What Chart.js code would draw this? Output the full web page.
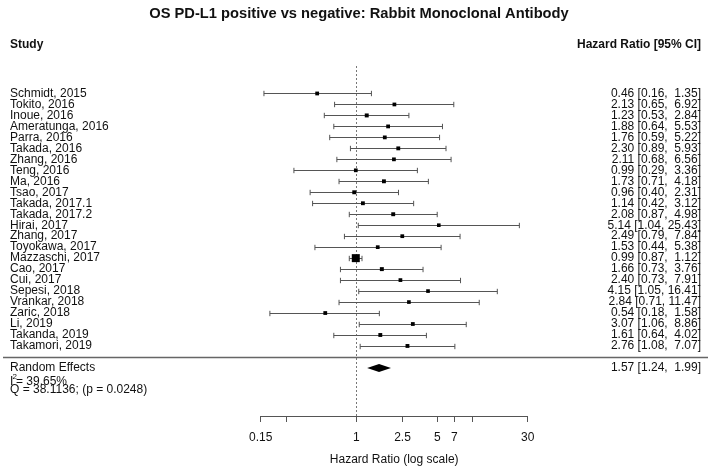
<!DOCTYPE html>
<html>
<head>
<meta charset="utf-8">
<script src="https://cdn.jsdelivr.net/npm/chart.js@4/dist/chart.umd.min.js"></script>
<style>
  html, body { margin: 0; padding: 0; background: #ffffff; }
  canvas { display: block; }
</style>
</head>
<body>
<canvas id="c" width="711" height="469"></canvas>
<script>
// ---------------- data ----------------
const studies = ["Schmidt, 2015","Tokito, 2016","Inoue, 2016","Ameratunga, 2016","Parra, 2016","Takada, 2016","Zhang, 2016","Teng, 2016","Ma, 2016","Tsao, 2017","Takada, 2017.1","Takada, 2017.2","Hirai, 2017","Zhang, 2017","Toyokawa, 2017","Mazzaschi, 2017","Cao, 2017","Cui, 2017","Sepesi, 2018","Vrankar, 2018","Zaric, 2018","Li, 2019","Takanda, 2019","Takamori, 2019"];
const hazardRatio = [0.46,2.13,1.23,1.88,1.76,2.30,2.11,0.99,1.73,0.96,1.14,2.08,5.14,2.49,1.53,0.99,1.66,2.40,4.15,2.84,0.54,3.07,1.61,2.76];
const ciLower = [0.16,0.65,0.53,0.64,0.59,0.89,0.68,0.29,0.71,0.40,0.42,0.87,1.04,0.79,0.44,0.87,0.73,0.73,1.05,0.71,0.18,1.06,0.64,1.08];
const ciUpper = [1.35,6.92,2.84,5.53,5.22,5.93,6.56,3.36,4.18,2.31,3.12,4.98,25.43,7.84,5.38,1.12,3.76,7.91,16.41,11.47,1.58,8.86,4.02,7.07];
const pooled = [1.57, 1.24, 1.99];           // estimate, lower, upper
const heterogeneityI2 = "39.65%";
const heterogeneityQ = "Q = 38.1136; (p = 0.0248)";
const tickValues = [0.15, 0.25, 1, 2.5, 5, 7, 10, 30];
const tickLabels = ["0.15", "", "1", "2.5", "5", "7", "", "30"];

// ---------------- styling / layout ----------------
const FONT = "'Liberation Sans', Arial, Helvetica, sans-serif";
const TEXT = "#111111";
const LINE = "#555555";
const ROW_SEP = studies.length;        // separator row
const ROW_RE = studies.length + 1;     // pooled row

// square sizes from inverse standard error (metafor style)
const invSe = ciLower.map((lo, i) => 3.92 / Math.log(ciUpper[i] / lo));
const wMin = Math.min(...invSe), wMax = Math.max(...invSe);
const sides = invSe.map(w => 3.6 + 4.4 * (w - wMin) / (wMax - wMin));

const fmt = v => v.toFixed(2);
const pad = (s, n) => s.length < n ? " ".repeat(n - s.length) + s : s;
const ciText = (e, lo, hi) => fmt(e) + " [" + fmt(lo) + ", " + pad(fmt(hi), 5) + "]";

const forestPlugin = {
  id: "forest",
  beforeDraw(chart) {
    const ctx = chart.ctx;
    ctx.save();
    ctx.fillStyle = "#ffffff";
    ctx.fillRect(0, 0, chart.width, chart.height);
    ctx.restore();
  },
  beforeDatasetsDraw(chart) {
    const ctx = chart.ctx, xs = chart.scales.x, ys = chart.scales.y;
    ctx.save();
    // reference line
    ctx.strokeStyle = "#777777";
    ctx.lineWidth = 1;
    ctx.setLineDash([2, 2]);
    const x1 = Math.round(xs.getPixelForValue(1)) + 0.5;
    ctx.beginPath();
    ctx.moveTo(x1, 66);
    ctx.lineTo(x1, chart.chartArea.bottom);
    ctx.stroke();
    ctx.setLineDash([]);
    // whiskers
    ctx.strokeStyle = LINE;
    ctx.lineWidth = 1;
    studies.forEach((s, i) => {
      const y = Math.round(ys.getPixelForValue(i)) + 0.5;
      const a = xs.getPixelForValue(ciLower[i]);
      const b = xs.getPixelForValue(ciUpper[i]);
      ctx.beginPath();
      ctx.moveTo(a, y); ctx.lineTo(b, y);
      ctx.moveTo(a, y - 2.7); ctx.lineTo(a, y + 2.7);
      ctx.moveTo(b, y - 2.7); ctx.lineTo(b, y + 2.7);
      ctx.stroke();
    });
    // separator
    const ysep = Math.round(ys.getPixelForValue(ROW_SEP)) + 0.5;
    ctx.strokeStyle = "#666666";
    ctx.lineWidth = 1.3;
    ctx.beginPath();
    ctx.moveTo(3, ysep); ctx.lineTo(708, ysep);
    ctx.stroke();
    // pooled diamond
    const yr = ys.getPixelForValue(ROW_RE);
    ctx.fillStyle = "#000000";
    ctx.beginPath();
    ctx.moveTo(xs.getPixelForValue(pooled[1]), yr);
    ctx.lineTo(xs.getPixelForValue(pooled[0]), yr - 4);
    ctx.lineTo(xs.getPixelForValue(pooled[2]), yr);
    ctx.lineTo(xs.getPixelForValue(pooled[0]), yr + 4);
    ctx.closePath();
    ctx.fill();
    ctx.restore();
  },
  afterDraw(chart) {
    const ctx = chart.ctx, ys = chart.scales.y;
    ctx.save();
    ctx.fillStyle = TEXT;
    ctx.textBaseline = "middle";
    // title
    ctx.font = "bold 14.7px " + FONT;
    ctx.textAlign = "center";
    ctx.fillText("OS PD-L1 positive vs negative: Rabbit Monoclonal Antibody", 359, 14);
    // headers
    ctx.font = "bold 12px " + FONT;
    ctx.textAlign = "left";
    ctx.fillText("Study", 10, 45);
    ctx.textAlign = "right";
    ctx.fillText("Hazard Ratio [95% CI]", 701, 45);
    // rows
    ctx.font = "12px " + FONT;
    studies.forEach((s, i) => {
      const y = ys.getPixelForValue(i);
      ctx.textAlign = "left";
      ctx.fillText(s, 10, y);
      ctx.textAlign = "right";
      ctx.fillText(ciText(hazardRatio[i], ciLower[i], ciUpper[i]), 701, y);
    });
    const yr = ys.getPixelForValue(ROW_RE);
    ctx.textAlign = "left";
    ctx.fillText("Random Effects", 10, yr);
    ctx.textAlign = "right";
    ctx.fillText(ciText(pooled[0], pooled[1], pooled[2]), 701, yr);
    // heterogeneity
    ctx.textAlign = "left";
    const yi = 382;
    ctx.fillText("I", 10, yi);
    ctx.font = "8px " + FONT;
    ctx.fillText("2", 12.5, yi - 5);
    ctx.font = "12px " + FONT;
    ctx.fillText("= " + heterogeneityI2, 16, yi);
    ctx.fillText(heterogeneityQ, 10, 390);
    ctx.restore();
  }
};

new Chart(document.getElementById("c"), {
  type: "scatter",
  plugins: [forestPlugin],
  data: {
    datasets: [{
      data: hazardRatio.map((v, i) => ({ x: v, y: i })),
      pointStyle: "rect",
      pointRadius: sides.map(s => s / Math.SQRT2),
      pointHoverRadius: sides.map(s => s / Math.SQRT2),
      backgroundColor: "#000000",
      borderWidth: 0,
      clip: false
    }]
  },
  options: {
    responsive: false,
    animation: false,
    devicePixelRatio: 1,
    layout: { padding: { left: 260.7, right: 183.3, top: 0, bottom: 0 } },
    plugins: { legend: { display: false }, tooltip: { enabled: false }, title: { display: false } },
    scales: {
      x: {
        type: "logarithmic",
        min: 0.15,
        max: 30,
        afterBuildTicks: s => { s.ticks = tickValues.map(v => ({ value: v })); },
        ticks: {
          callback: (v, i) => tickLabels[i],
          autoSkip: false,
          maxRotation: 0,
          padding: 10,
          color: TEXT,
          font: { family: FONT, size: 12, lineHeight: 1 }
        },
        grid: { drawOnChartArea: false, drawTicks: true, tickLength: 6, color: LINE, lineWidth: 1 },
        border: { display: true, color: LINE, width: 1 },
        title: {
          display: true,
          text: "Hazard Ratio (log scale)",
          color: TEXT,
          font: { family: FONT, size: 12, lineHeight: 1 },
          padding: { top: 0, bottom: 3 }
        }
      },
      y: {
        type: "linear",
        display: false,
        reverse: true,
        min: -8.0,
        max: 29.38
      }
    }
  }
});
</script>
</body>
</html>
